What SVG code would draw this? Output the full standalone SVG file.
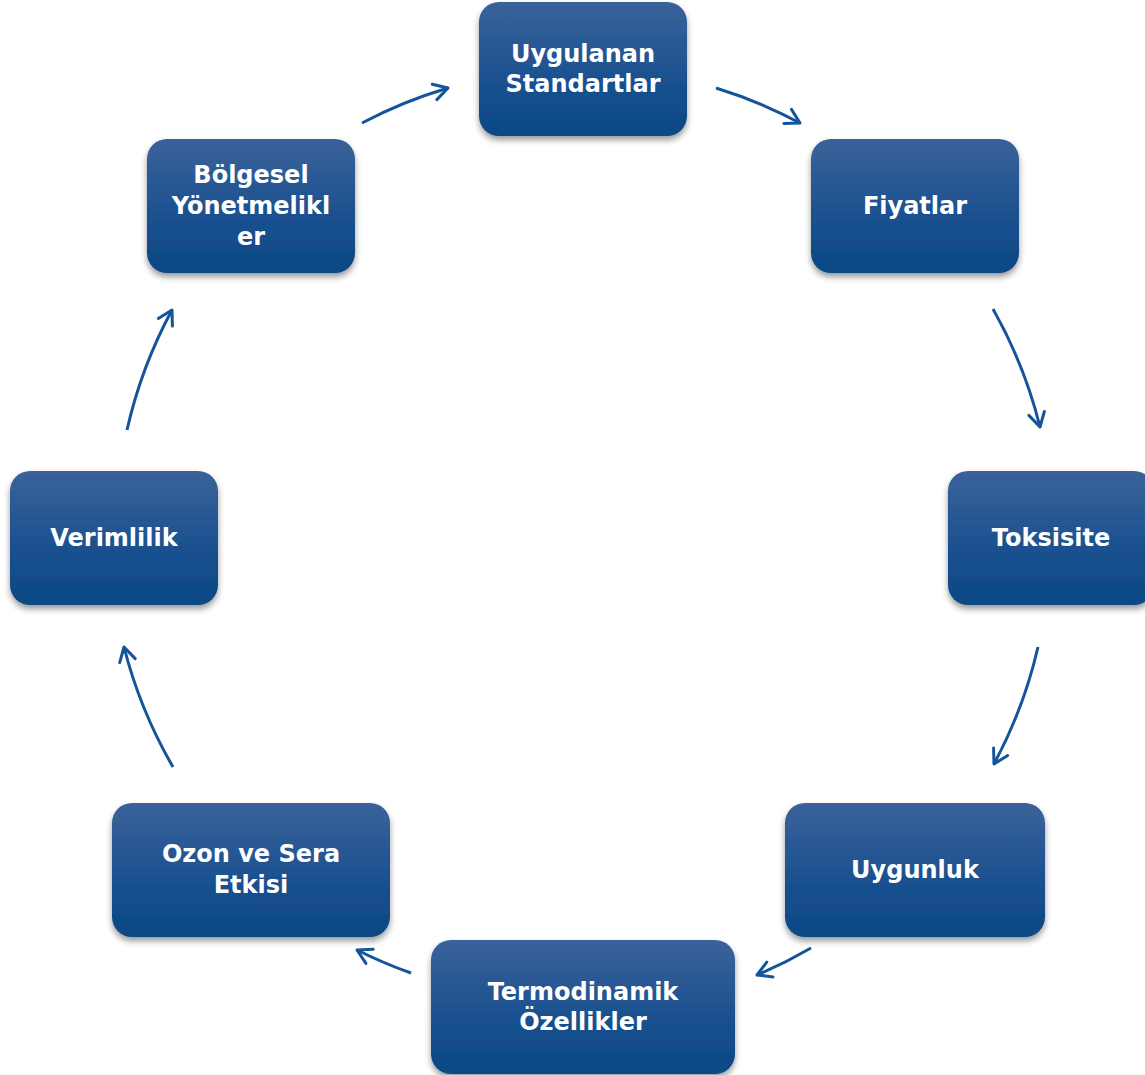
<svg xmlns="http://www.w3.org/2000/svg" width="1145" height="1075" viewBox="0 0 1145 1075">
<defs>
<linearGradient id="g" x1="0" y1="0" x2="0" y2="1">
<stop offset="0" stop-color="#3b6299"/>
<stop offset="0.55" stop-color="#1c5190"/>
<stop offset="1" stop-color="#0b4884"/>
</linearGradient>
<filter id="sh" x="-10%" y="-10%" width="120%" height="130%">
<feDropShadow dx="0" dy="4" stdDeviation="3" flood-color="#000" flood-opacity="0.4"/>
</filter>
<marker id="ah" viewBox="0 0 20 20" refX="17" refY="10" markerWidth="20" markerHeight="20" markerUnits="userSpaceOnUse" orient="auto">
<path d="M3,2 L17,10 L3,18" fill="none" stroke="#14549a" stroke-width="3" stroke-linecap="round" stroke-linejoin="round"/>
</marker>
</defs>
<style>
.box{fill:url(#g);filter:url(#sh)}
.t{font-family:"DejaVu Sans",sans-serif;font-weight:bold;font-size:24px;fill:#fff;text-anchor:middle}
.c{fill:none;stroke:#14549a;stroke-width:3;marker-end:url(#ah)}
</style>
<g id="connectors">
<path class="c" d="M362,123 A470,470 0 0 1 448,88"/>
<path class="c" d="M716,88 A470,470 0 0 1 800,123"/>
<path class="c" d="M993,309 A470,470 0 0 1 1040,427"/>
<path class="c" d="M1038,647 A470,470 0 0 1 994,764"/>
<path class="c" d="M811,948 A470,470 0 0 1 757,975"/>
<path class="c" d="M411,973 A470,470 0 0 1 357,950"/>
<path class="c" d="M173,767 A470,470 0 0 1 124,647"/>
<path class="c" d="M127,430 A470,470 0 0 1 172,310"/>
</g>
<g id="n1"><rect class="box" x="479" y="2" width="208" height="134" rx="20"/><text class="t" x="583" y="62">Uygulanan</text><text class="t" x="583" y="92">Standartlar</text></g>
<g id="n2"><rect class="box" x="811" y="139" width="208" height="134" rx="20"/><text class="t" x="915" y="214">Fiyatlar</text></g>
<g id="n3"><rect class="box" x="948" y="471" width="206" height="134" rx="20"/><text class="t" x="1051" y="546">Toksisite</text></g>
<g id="n4"><rect class="box" x="785" y="803" width="260" height="134" rx="20"/><text class="t" x="915" y="878">Uygunluk</text></g>
<g id="n5"><rect class="box" x="431" y="940" width="304" height="134" rx="20"/><text class="t" x="583" y="1000">Termodinamik</text><text class="t" x="583" y="1030">Özellikler</text></g>
<g id="n6"><rect class="box" x="112" y="803" width="278" height="134" rx="20"/><text class="t" x="251" y="862">Ozon ve Sera</text><text class="t" x="251" y="893">Etkisi</text></g>
<g id="n7"><rect class="box" x="10" y="471" width="208" height="134" rx="20"/><text class="t" x="114" y="546">Verimlilik</text></g>
<g id="n8"><rect class="box" x="147" y="139" width="208" height="134" rx="20"/><text class="t" x="251" y="183">Bölgesel</text><text class="t" x="251" y="214">Yönetmelikl</text><text class="t" x="251" y="245">er</text></g>
</svg>
